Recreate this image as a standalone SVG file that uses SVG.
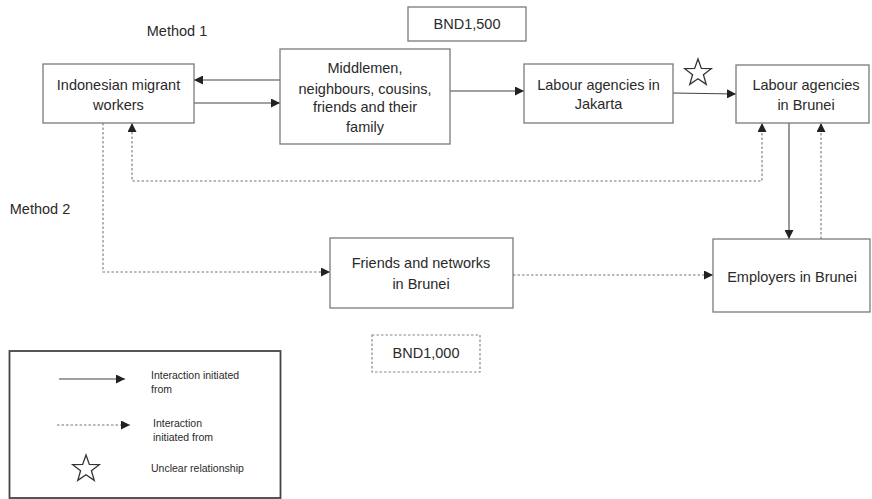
<svg xmlns="http://www.w3.org/2000/svg" xmlns:xlink="http://www.w3.org/1999/xlink" width="872" height="499" viewBox="0 0 872 499">
<defs>
<style>
.box{fill:#fff;stroke:#7a7a7a;stroke-width:1.3}
.dbox{fill:#fff;stroke:#888;stroke-width:1.2;stroke-dasharray:2.5 2}
.t{font-family:"Liberation Sans",Arial,sans-serif;font-size:14.5px;fill:#2a2a2a;text-anchor:middle}
.lt{font-family:"Liberation Sans",Arial,sans-serif;font-size:10.5px;fill:#2a2a2a}
.s{fill:none;stroke:#444;stroke-width:1.1}
.d{fill:none;stroke:#777;stroke-width:1.1;stroke-dasharray:2.5 2}
.star{fill:none;stroke:#333;stroke-width:1.3}
</style>
<marker id="ah" viewBox="0 0 10 10" refX="10" refY="5" markerWidth="9" markerHeight="9" markerUnits="userSpaceOnUse" orient="auto-start-reverse">
<path d="M0,0 L10,5 L0,10 Z" fill="#222"/>
</marker>
<path id="starp" d="M0,-14 L3.35,-4.61 L13.31,-4.33 L5.42,1.76 L8.23,11.33 L0,5.7 L-8.23,11.33 L-5.42,1.76 L-13.31,-4.33 L-3.35,-4.61 Z"/>
</defs>
<rect width="872" height="499" fill="#fff"/>

<text class="t" x="177" y="36">Method 1</text>
<text class="t" x="40" y="214">Method 2</text>

<g id="connectors">
<line class="s" x1="280" y1="80" x2="194" y2="80" marker-end="url(#ah)"/>
<line class="s" x1="194" y1="103" x2="280" y2="103" marker-end="url(#ah)"/>
<line class="s" x1="450" y1="91" x2="524" y2="91" marker-end="url(#ah)"/>
<line class="s" x1="673" y1="93" x2="736" y2="94" marker-end="url(#ah)"/>
<polyline class="d" points="132,123 132,181 762,181 762,123" marker-start="url(#ah)" marker-end="url(#ah)"/>
<line class="s" x1="789" y1="123" x2="789" y2="239" marker-end="url(#ah)"/>
<line class="d" x1="821" y1="239" x2="821" y2="123" marker-end="url(#ah)"/>
<polyline class="d" points="103,123 103,272 330,272" marker-end="url(#ah)"/>
<line class="d" x1="513" y1="275" x2="713" y2="275" marker-end="url(#ah)"/>
</g>

<g id="imw">
<rect class="box" x="43" y="64" width="151" height="59"/>
<text class="t" x="118.5" y="90">Indonesian migrant</text>
<text class="t" x="118.5" y="110">workers</text>
</g>

<g id="middlemen">
<rect class="box" x="280" y="49" width="170" height="95"/>
<text class="t" x="365" y="73">Middlemen,</text>
<text class="t" x="365" y="94">neighbours, cousins,</text>
<text class="t" x="365" y="112">friends and their</text>
<text class="t" x="365" y="132">family</text>
</g>

<g id="bnd1500">
<rect class="box" x="408" y="7" width="118" height="34"/>
<text class="t" x="467" y="29">BND1,500</text>
</g>

<g id="jakarta">
<rect class="box" x="524" y="64" width="149" height="59"/>
<text class="t" x="598.5" y="90">Labour agencies in</text>
<text class="t" x="598.5" y="109">Jakarta</text>
</g>

<g id="star">
<use xlink:href="#starp" class="star" transform="translate(698,73)"/>
</g>

<g id="brunei-agencies">
<rect class="box" x="736" y="65" width="133" height="58"/>
<text class="t" x="806" y="90">Labour agencies</text>
<text class="t" x="806" y="110">in Brunei</text>
</g>

<g id="friends">
<rect class="box" x="330" y="238" width="183" height="70"/>
<text class="t" x="421" y="268">Friends and networks</text>
<text class="t" x="421" y="289">in Brunei</text>
</g>

<g id="employers">
<rect class="box" x="713" y="239" width="157" height="73"/>
<text class="t" x="792" y="282">Employers in Brunei</text>
</g>

<g id="bnd1000">
<rect class="dbox" x="372" y="335" width="108" height="37"/>
<text class="t" x="426" y="358">BND1,000</text>
</g>

<g id="legend">
<rect x="9.5" y="351" width="271" height="147" fill="#fff" stroke="#444" stroke-width="1.8"/>
<line class="s" x1="59" y1="379" x2="125" y2="379" marker-end="url(#ah)"/>
<text class="lt" x="151" y="379">Interaction initiated</text>
<text class="lt" x="151" y="393">from</text>
<line class="d" x1="57" y1="425" x2="130" y2="425" marker-end="url(#ah)"/>
<text class="lt" x="153" y="427">Interaction</text>
<text class="lt" x="153" y="441">initiated from</text>
<use xlink:href="#starp" class="star" transform="translate(86,469)"/>
<text class="lt" x="151" y="472">Unclear relationship</text>
</g>
</svg>
